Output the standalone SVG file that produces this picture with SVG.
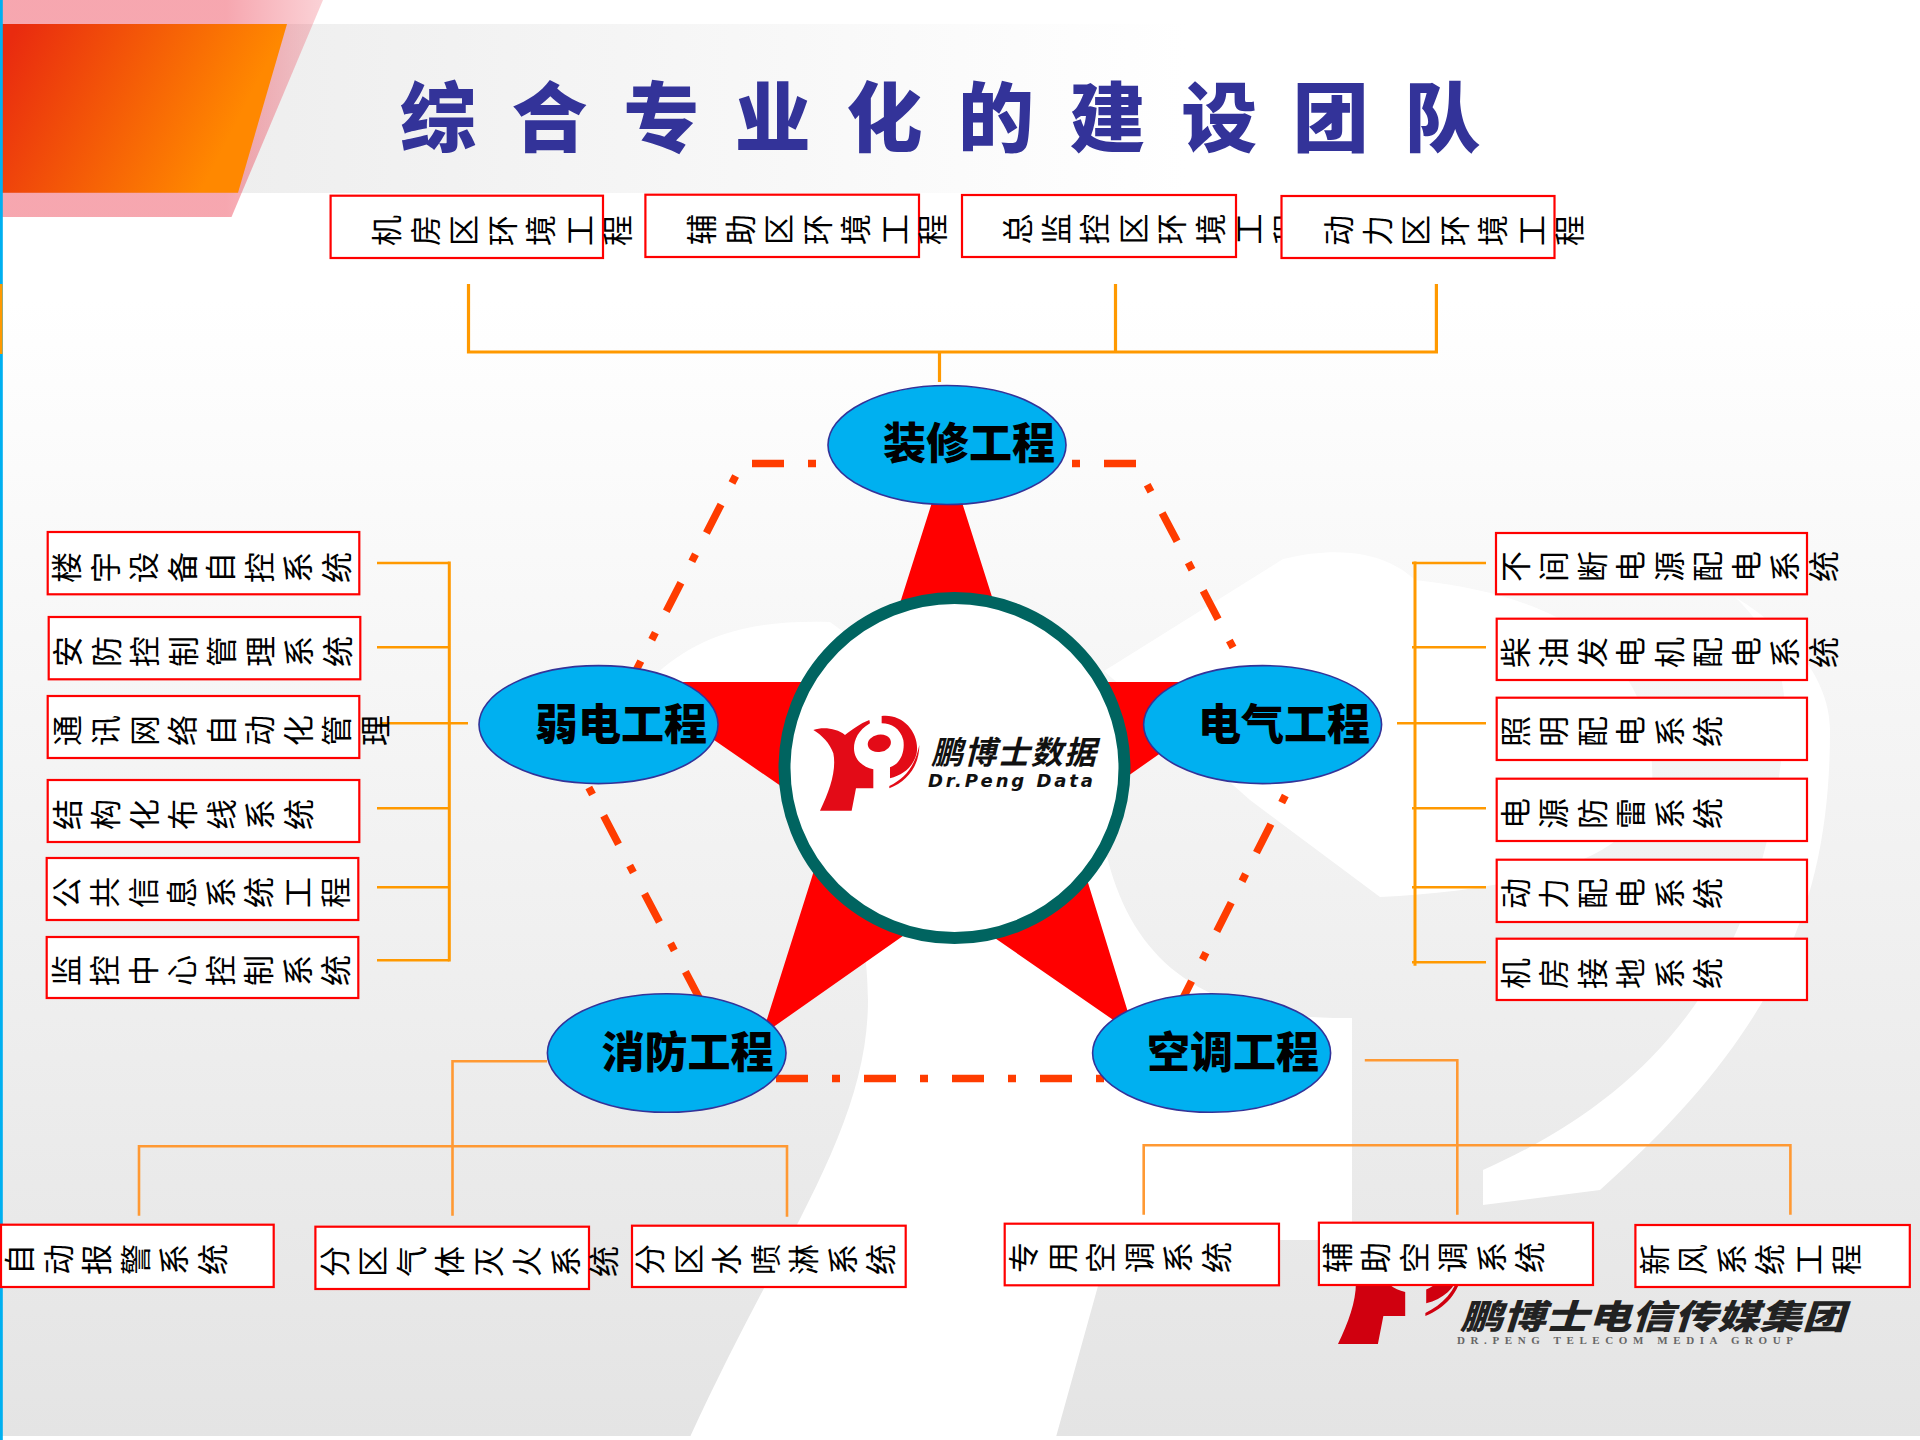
<svg xmlns="http://www.w3.org/2000/svg" width="1920" height="1440" viewBox="0 0 1920 1440">
<style>
.box{fill:#fff;stroke:#f00;stroke-width:2.2}
.t{font-family:"Noto Sans CJK SC","Liberation Sans",sans-serif;font-size:31px;letter-spacing:7.5px;fill:#000}
.oval{stroke:#333399;stroke-width:1.6;fill:#00B0F0}
.lb{font-family:"Noto Sans CJK SC","Liberation Sans",sans-serif;font-size:43px;font-weight:900;fill:#000}
.org{fill:none;stroke:#FF9900;stroke-width:2.6}
.org2{fill:none;stroke:#FF9933;stroke-width:2.6}
.dd{fill:none;stroke:#FF3C00;stroke-width:7.5}
.mk{fill:#E30B17}
.w{fill:#fff}
</style>
<defs>
<linearGradient id="bg" x1="0" y1="300" x2="0" y2="1436" gradientUnits="userSpaceOnUse"><stop offset="0" stop-color="#fff"/><stop offset="1" stop-color="#E4E4E4"/></linearGradient>
<linearGradient id="band" x1="0" x2="1186" y1="0" y2="0" gradientUnits="userSpaceOnUse"><stop offset="0" stop-color="#EAEAEA"/><stop offset="1" stop-color="#fff"/></linearGradient>
<linearGradient id="pink" x1="0" x2="323" y1="0" y2="0" gradientUnits="userSpaceOnUse"><stop offset="0" stop-color="#EB3246" stop-opacity=".43"/><stop offset=".7" stop-color="#EB3246" stop-opacity=".43"/><stop offset="1" stop-color="#EB3246" stop-opacity=".22"/></linearGradient>
<linearGradient id="orange" x1="10" y1="40" x2="260" y2="170" gradientUnits="userSpaceOnUse"><stop offset="0" stop-color="#E92B0F"/><stop offset=".85" stop-color="#FF8800"/></linearGradient>
<g id="mark">
<path d="M100,150C130,140 170,145 195,165C215,150 240,130 268,120L270,130C235,150 222,180 222,205C222,240 250,262 280,268L280,325L228,325L215,392L120,392C150,330 170,270 160,220C150,190 125,165 100,150Z"/>
<path d="M305,108C370,100 420,160 410,220C400,260 370,285 330,295L330,262C365,250 375,210 370,180C360,145 335,130 305,130Z"/>
<ellipse cx="298" cy="190" rx="35" ry="26" transform="rotate(-10 298 190)"/>
<path d="M418,195C418,260 380,305 328,325L328,318C375,295 405,260 418,195Z"/>
</g>
</defs>

<g id="background">
<rect width="1920" height="1440" fill="#fff"/>
<rect width="1920" height="1436" fill="url(#bg)"/>
<path class="w" d="M690,1437C780,1240 868,1130 868,1000C868,900 830,800 700,720L650,680C700,630 760,620 830,622L1100,820C1120,960 1200,1020 1352,1018L1352,1240L1125,1240L1098,1286L1056,1437Z"/>
<path class="w" d="M1380,897C1520,890 1660,860 1652,767C1650,680 1600,600 1415,580C1400,565 1360,540 1283,559L1104,671L1250,800Z"/>
<path class="w" d="M1483,1170C1640,1100 1770,980 1785,714C1785,660 1760,620 1735,597C1790,630 1830,680 1830,730C1830,900 1780,1030 1600,1190L1483,1205Z"/>
</g>

<g id="header">
<rect x="0" y="24" width="1186" height="169" fill="url(#band)"/>
<polygon points="0,0 323,0 231.5,217 0,217" fill="url(#pink)"/>
<polygon points="2,24 287,24 238,192.7 2,192.7" fill="url(#orange)"/>
<text id="title" x="400" y="146" font-family="'Noto Sans CJK SC','Liberation Sans',sans-serif" font-size="76" font-weight="900" letter-spacing="35.6" fill="#333399">综合专业化的建设团队</text>
</g>
<rect id="edge" x="0" y="0" width="2.8" height="1440" fill="#00B0F0"/>
<rect x="0" y="284" width="2.5" height="70" fill="#FF9900"/>

<g id="corner-logo">
<use href="#mark" transform="translate(1287.6 1179.4) scale(.42)" style="fill:#D0000F"/>
<text x="1460" y="1329" font-family="'Noto Sans CJK SC',sans-serif" font-size="34" font-weight="900" font-style="italic" textLength="385" lengthAdjust="spacingAndGlyphs" fill="#222">鹏博士电信传媒集团</text>
<text x="1457" y="1344" font-family="'Liberation Serif',serif" font-size="11" font-weight="700" textLength="336" fill="#666">DR.PENG TELECOM MEDIA GROUP</text>
</g>

<g id="connectors">
<path class="org" style="stroke-width:3.2" d="M468.5,284V352H1436.4V284M1115.5,284V352M939.5,352V382"/>
<path class="org" d="M377,563H449.3M377,647.3H449.3M380,723.3H468M377,808.3H449.3M377,887.3H449.3M377,960.3H449.3"/>
<path class="org" style="stroke-width:3" d="M449.3,561.5V961.5"/>
<path class="org" d="M1412,563H1486M1412,647.3H1486M1397,723.3H1486M1412,808.3H1486M1412,887.3H1486M1412,962.3H1486"/>
<path class="org" style="stroke-width:3" d="M1415,561.5V965.7"/>
<path class="org2" d="M547,1061.3H452.5V1215.7M139,1215.7V1146.3H787V1216.7"/>
<path class="org2" d="M1364.8,1060.3H1457.3V1214.7M1143.7,1214.7V1145.3H1790.4V1214.7"/>
</g>

<g id="hexagon">
<path class="dd" stroke-dasharray="8 24 32 24" d="M816,463.5H742L626,690"/>
<path class="dd" stroke-dasharray="8 24 32 24" d="M1072,463.5H1136L1236,653"/>
<path class="dd" stroke-dasharray="8 24 32 24" d="M1285.3,795.5L1176,1012"/>
<path class="dd" stroke-dasharray="8 24 32 24" d="M588.8,787.5L705,1009"/>
<path class="dd" stroke-dasharray="32 24 8 24" d="M776,1078.5H1112"/>
</g>

<polygon id="star" fill="#f00" points="947,455 1019,682 1262,682 1068,818 1135,1035 947,905 762,1035 830,820 630,682 875,682"/>

<g id="hub">
<circle cx="954.5" cy="768" r="170" fill="#fff" stroke="#006460" stroke-width="12"/>
<use href="#mark" class="mk" transform="translate(780 680) scale(.3333)"/>
<text x="931" y="764" font-family="'Noto Sans CJK SC',sans-serif" font-size="32" font-weight="700" font-style="italic" textLength="165" fill="#111">鹏博士数据</text>
<text x="928" y="787" font-family="'DejaVu Sans',sans-serif" font-size="18" font-weight="700" font-style="italic" textLength="165" fill="#111">Dr.Peng Data</text>
</g>

<g id="n-zhuangxiu"><ellipse class="oval" cx="947" cy="445" rx="119" ry="59.5"/><text class="lb" x="883" y="459">装修工程</text></g>
<g id="n-ruodian"><ellipse class="oval" cx="598.5" cy="724.6" rx="119.5" ry="59"/><text class="lb" x="535" y="740">弱电工程</text></g>
<g id="n-dianqi"><ellipse class="oval" cx="1262.6" cy="724.6" rx="119" ry="59"/><text class="lb" x="1198" y="740">电气工程</text></g>
<g id="n-xiaofang"><ellipse class="oval" cx="666.7" cy="1053" rx="119.3" ry="59.3"/><text class="lb" x="601.5" y="1068">消防工程</text></g>
<g id="n-kongtiao"><ellipse class="oval" cx="1211.6" cy="1053" rx="119" ry="59.3"/><text class="lb" x="1147" y="1068">空调工程</text></g>

<g id="n-t1"><rect class="box" x="330.6" y="195.7" width="272.4" height="62.3"/><text class="t" rotate="-90" x="398" y="246">机房区环境工程</text></g>
<g id="n-t2"><rect class="box" x="645.4" y="194.7" width="273.6" height="62.3"/><text class="t" rotate="-90" x="713" y="245">辅助区环境工程</text></g>
<g id="n-t3"><rect class="box" x="962" y="195" width="274" height="62"/><text class="t" rotate="-90" x="1029" y="244.5">总监控区环境工程</text></g>
<g id="n-t4"><rect class="box" x="1281.5" y="196" width="273" height="62"/><text class="t" rotate="-90" x="1350.4" y="246">动力区环境工程</text></g>

<g id="n-l1"><rect class="box" x="47.7" y="532" width="311.6" height="62.3"/><text class="t" rotate="-90" x="78" y="583">楼宇设备自控系统</text></g>
<g id="n-l2"><rect class="box" x="48.7" y="617" width="311.6" height="62.3"/><text class="t" rotate="-90" x="79" y="667">安防控制管理系统</text></g>
<g id="n-l3"><rect class="box" x="47.7" y="696" width="311.6" height="62"/><text class="t" rotate="-90" x="78.7" y="746">通讯网络自动化管理</text></g>
<g id="n-l4"><rect class="box" x="47.7" y="780" width="311.6" height="62"/><text class="t" rotate="-90" x="78.7" y="830">结构化布线系统</text></g>
<g id="n-l5"><rect class="box" x="46.7" y="858" width="311.6" height="62"/><text class="t" rotate="-90" x="77.7" y="908">公共信息系统工程</text></g>
<g id="n-l6"><rect class="box" x="46.7" y="937" width="311.6" height="61"/><text class="t" rotate="-90" x="77.7" y="986">监控中心控制系统</text></g>

<g id="n-r1"><rect class="box" x="1496" y="533" width="311" height="61.3"/><text class="t" rotate="-90" x="1526.5" y="582">不间断电源配电系统</text></g>
<g id="n-r2"><rect class="box" x="1496.7" y="618.7" width="310.3" height="61.3"/><text class="t" rotate="-90" x="1526.5" y="668">柴油发电机配电系统</text></g>
<g id="n-r3"><rect class="box" x="1496.7" y="697.7" width="310.3" height="62.3"/><text class="t" rotate="-90" x="1526.5" y="747">照明配电系统</text></g>
<g id="n-r4"><rect class="box" x="1496.7" y="778.7" width="310.3" height="62.3"/><text class="t" rotate="-90" x="1526.5" y="829">电源防雷系统</text></g>
<g id="n-r5"><rect class="box" x="1496.7" y="859.7" width="310.3" height="62.3"/><text class="t" rotate="-90" x="1526.5" y="909">动力配电系统</text></g>
<g id="n-r6"><rect class="box" x="1496.7" y="938.7" width="310.3" height="61.3"/><text class="t" rotate="-90" x="1526.5" y="989">机房接地系统</text></g>

<g id="n-b1"><rect class="box" x="1" y="1224.7" width="272.7" height="62.3"/><text class="t" rotate="-90" x="31" y="1275">自动报警系统</text></g>
<g id="n-b2"><rect class="box" x="315.4" y="1226.7" width="273.6" height="62.3"/><text class="t" rotate="-90" x="345.7" y="1277">分区气体灭火系统</text></g>
<g id="n-b3"><rect class="box" x="632" y="1225.7" width="273.7" height="61.3"/><text class="t" rotate="-90" x="661" y="1275">分区水喷淋系统</text></g>
<g id="n-b4"><rect class="box" x="1004.7" y="1223.7" width="274.3" height="61.6"/><text class="t" rotate="-90" x="1035" y="1273">专用空调系统</text></g>
<g id="n-b5"><rect class="box" x="1318.9" y="1222.7" width="274.1" height="62.3"/><text class="t" rotate="-90" x="1348.5" y="1273">辅助空调系统</text></g>
<g id="n-b6"><rect class="box" x="1635.4" y="1225" width="274.4" height="62"/><text class="t" rotate="-90" x="1665.7" y="1275">新风系统工程</text></g>
</svg>
